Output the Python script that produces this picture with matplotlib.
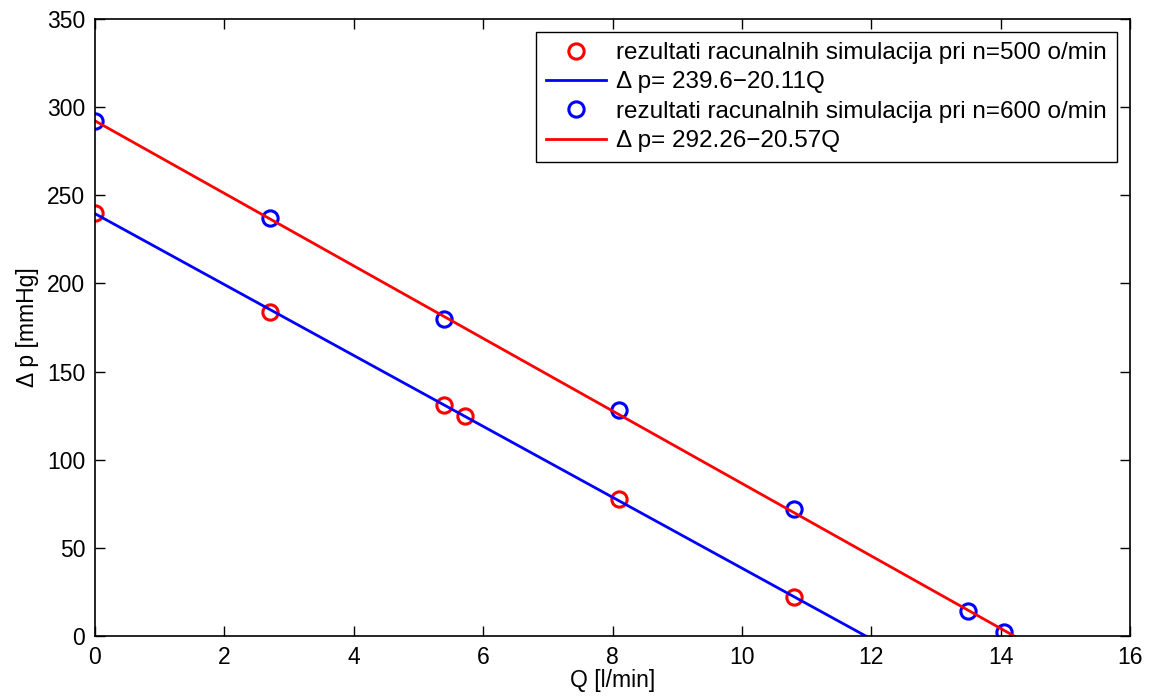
import numpy as np
import matplotlib
matplotlib.use('Agg')
from matplotlib import pyplot as plt

plt.rcParams['font.family'] = ['Liberation Sans', 'DejaVu Sans']
plt.rcParams['font.size'] = 16.5

# rezultati simulacija
q_500 = [0, 2.7, 5.4, 5.72, 8.1, 10.8]
dp_500 = [240, 184, 131, 125, 78, 22]
q_600 = [0, 2.7, 5.4, 8.1, 10.8, 13.5, 14.05]
dp_600 = [292, 237, 180, 128, 72, 14, 2]

# koeficijenti pravaca
a_500, b_500 = 239.6, 20.11
a_600, b_600 = 292.26, 20.57

q1 = np.linspace(0, a_500 / b_500, 50)
q2 = np.linspace(0, a_600 / b_600, 50)

fig = plt.figure(figsize=(11.51, 6.99), dpi=100)
ax = fig.add_axes([0.0825, 0.0901, 0.8993, 0.8827])

ax.plot(q_500, dp_500, 'o', color='red', mfc='none', ms=11, mew=2.2,
        label='rezultati racunalnih simulacija pri n=500 o/min')
ax.plot(q1, a_500 - b_500 * q1, color='blue', lw=2,
        label='\u0394 p= 239.6\u221220.11Q')
ax.plot(q_600, dp_600, 'o', color='blue', mfc='none', ms=11, mew=2.2,
        label='rezultati racunalnih simulacija pri n=600 o/min')
ax.plot(q2, a_600 - b_600 * q2, color='red', lw=2,
        label='\u0394 p= 292.26\u221220.57Q')

ax.set_xlim(0, 16)
ax.set_ylim(0, 350)
ax.set_xticks(range(0, 17, 2))
ax.set_yticks(range(0, 351, 50))
ax.tick_params(direction='in', top=True, right=True, length=7, width=1, pad=7)
for s in ax.spines.values():
    s.set_linewidth(1.2)
ax.set_xlabel('Q [l/min]', labelpad=0)
ax.set_ylabel('\u0394 p [mmHg]', labelpad=6)

leg = ax.legend(loc='upper right', fancybox=False, edgecolor='black',
                framealpha=1, borderaxespad=0.55, handlelength=2.5,
                labelspacing=0.3, handletextpad=0.4, borderpad=0.4,
                fontsize=17.5)
leg.get_frame().set_linewidth(1.0)

fig.savefig('out.png', dpi=100)
